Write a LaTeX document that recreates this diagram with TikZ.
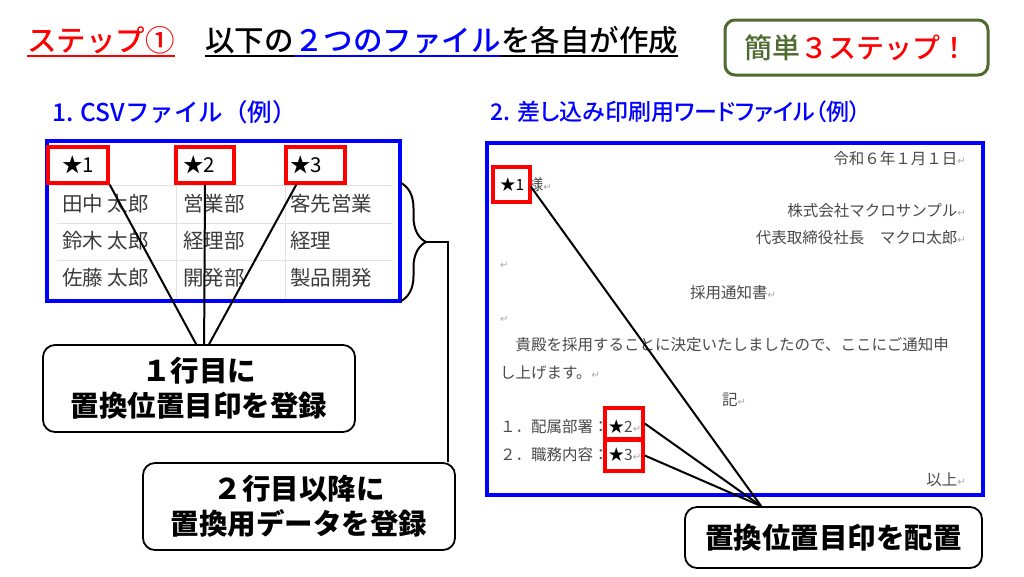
\documentclass[tikz,border=0pt]{standalone}
\usepackage{fontspec}
\setmainfont{Noto Sans CJK JP}
\newfontfamily\dvfont{DejaVu Sans}
\IfFontExistsTF{Noto Sans CJK JP Medium}
  {\newfontfamily\jpmed{Noto Sans CJK JP Medium}\newfontfamily\jpmedp{Noto Sans CJK JP Medium}[RawFeature=+palt]}
  {\newfontfamily\jpmed{Noto Sans CJK JP}\newfontfamily\jpmedp{Noto Sans CJK JP}[RawFeature=+palt]}
\usetikzlibrary{calc,decorations.pathreplacing}
\definecolor{dgreen}{HTML}{4E6B30}
\definecolor{csvgray}{HTML}{3C3C3C}
\definecolor{docgray}{HTML}{4A4A4A}
\definecolor{retgray}{HTML}{A8A8A8}
\definecolor{gridgray}{HTML}{E2E2E2}
\newcommand{\ret}{{\color{retgray}\dvfont\fontsize{10}{12}\selectfont ↵}}
\begin{document}
\begin{tikzpicture}[x=1pt,y=-1pt,
  redbox/.style={draw=red, line width=3.5pt, inner sep=0pt},
  bluebox/.style={draw=blue, line width=4pt, inner sep=0pt},
  callout/.style={draw=black, line width=1.8pt, rounded corners=12pt, align=center, inner sep=0pt,
    font=\fontsize{28.5}{35}\selectfont\bfseries},
  conn/.style={draw=black, line width=2pt},
  ttl/.style={inner sep=0pt, anchor=base west, font=\jpmed\fontsize{29.5}{34}\selectfont},
  sect/.style={inner sep=0pt, anchor=west, text=blue, font=\jpmed\fontsize{24.5}{28}\selectfont},
  csvt/.style={inner sep=0pt, anchor=west, text=csvgray, font=\fontsize{20.5}{24}\selectfont},
  doct/.style={inner sep=0pt, text=docgray, font=\fontsize{15.5}{18}\selectfont},
  grid/.style={draw=gridgray, line width=1pt}
]
\useasboundingbox (0,0) rectangle (1024,576);
\fill[white] (0,0) rectangle (1024,576);

% ---------- title ----------
\node[ttl, text=red] (t0) at (27,51) {ステップ①};
\node[ttl] (t1) at (205,51) {以下の};
\node[ttl, text=blue] (t2) at (t1.base east) {２つのファイル};
\node[ttl] (t3) at (t2.base east) {を各自が作成};
\draw[red, line width=2pt] ($(t0.base west)+(0,4.5)$) -- ($(t0.base east)+(0,4.5)$);
\draw[black, line width=2pt] ($(t1.base west)+(0,4.5)$) -- ($(t1.base east)+(0,4.5)$);
\draw[blue, line width=2pt] ($(t2.base west)+(0,4.5)$) -- ($(t2.base east)+(0,4.5)$);
\draw[black, line width=2pt] ($(t3.base west)+(0,4.5)$) -- ($(t3.base east)+(0,4.5)$);

\node[draw=dgreen, line width=3pt, rounded corners=10pt, minimum width=263pt, minimum height=55pt,
  inner sep=0pt, font=\jpmed\fontsize{28}{32}\selectfont] (easy) at (856.5,47.5)
  {{\color{dgreen}簡単}{\color{red}３ステップ！}};

% ---------- section titles ----------
\node[sect] (s1) at (52,112) {1. CSVファイル（例）};
\node[sect, font=\jpmedp\fontsize{23}{28}\selectfont] (s2) at (490,112) {2. 差し込み印刷用ワードファイル（例）};

% ---------- CSV ----------
\node[bluebox, minimum width=353pt, minimum height=160pt] (csv) at (223.5,221) {};
\foreach \yy in {185,223,260} \draw[grid] (57,\yy) -- (392,\yy);
\foreach \xx in {176,285} \draw[grid] (\xx,185) -- (\xx,298);

\node[csvt, text=black] (h1) at (62,165) {★1};
\node[csvt, text=black] (h2) at (183,165) {★2};
\node[csvt, text=black] (h3) at (290,165) {★3};
\node[csvt] (c11) at (62,204) {田中 太郎};
\node[csvt] (c12) at (183,204) {営業部};
\node[csvt] (c13) at (290,204) {客先営業};
\node[csvt] (c21) at (62,241) {鈴木 太郎};
\node[csvt] (c22) at (183,241) {経理部};
\node[csvt] (c23) at (290,241) {経理};
\node[csvt] (c31) at (62,278) {佐藤 太郎};
\node[csvt] (c32) at (183,278) {開発部};
\node[csvt] (c33) at (290,278) {製品開発};

\node[redbox, minimum width=60pt, minimum height=36pt] (r1) at (78,165) {};
\node[redbox, minimum width=58pt, minimum height=36pt] (r2) at (205,165) {};
\node[redbox, minimum width=59pt, minimum height=36pt] (r3) at (315.5,165) {};

% brace
\coordinate (bt) at (401,183);
\coordinate (bb) at (401,301);
\draw[line width=2pt, decorate, decoration={brace, amplitude=25pt}] (bt) -- (bb);
\coordinate (btip) at ($(bt)!0.5!(bb)+(25,0)$);

% callouts
\node[callout, minimum width=312pt, minimum height=87pt] (b1) at (199,388.5) {１行目に\\置換位置目印を登録};
\node[callout, minimum width=312pt, minimum height=87pt] (b2) at (299,506.5) {２行目以降に\\置換用データを登録};

\coordinate (b2c) at ($(b2.north east)+(-8,0)$);
\draw[conn] (btip) -| (b2c);

\draw[conn] (r1.south east) -- ($(b1.north west)+(154,0)$);
\draw[conn] (r2.south) -- ($(b1.north west)+(162,0)$);
\draw[conn] ($(r3.south west)+(12,0)$) -- ($(b1.north west)+(167,0)$);

% ---------- Word document ----------
\node[bluebox, minimum width=496pt, minimum height=352pt] (doc) at (735,319) {};
\node[doct, anchor=east] (d1) at (966,159) {令和６年１月１日\ret};
\node[doct, anchor=west] (d2) at (500,185) {{\color{black}★1} 様\ret};
\node[doct, anchor=east] (d3) at (966,211) {株式会社マクロサンプル\ret};
\node[doct, anchor=east] (d4) at (966,238) {代表取締役社長　マクロ太郎\ret};
\node[doct, anchor=west] (d5) at (500,265) {\ret};
\node[doct, anchor=west] (d6) at (690,293) {採用通知書\ret};
\node[doct, anchor=west] (d7) at (500,319) {\ret};
\node[doct, anchor=west] (d8) at (500,345) {　貴殿を採用することに決定いたしましたので、ここにご通知申};
\node[doct, anchor=west] (d9) at (500,373) {し上げます。\ret};
\node[doct, anchor=west] (d10) at (722,400) {記\ret};
\node[doct, anchor=west] (d11) at (500,427) {１．配属部署：{\color{black}★}2\ret};
\node[doct, anchor=west] (d12) at (500,455) {２．職務内容：{\color{black}★}3\ret};
\node[doct, anchor=east] (d13) at (966,480) {以上\ret};

\node[redbox, minimum width=37pt, minimum height=35pt] (w1) at (511.5,184.5) {};
\node[redbox, minimum width=38pt, minimum height=31pt] (w2) at (624,423.5) {};
\node[redbox, minimum width=38pt, minimum height=31pt] (w3) at (624,455.5) {};

\node[callout, minimum width=297pt, minimum height=61pt] (b3) at (833.5,537.5) {置換位置目印を配置};
\coordinate (b3p) at ($(b3.north west)+(77,0)$);
\draw[conn] ($(w1.east)+(-1,2)$) -- (b3p);
\draw[conn] (w2.east) -- (b3p);
\draw[conn] (w3.east) -- (b3p);
\end{tikzpicture}
\end{document}
